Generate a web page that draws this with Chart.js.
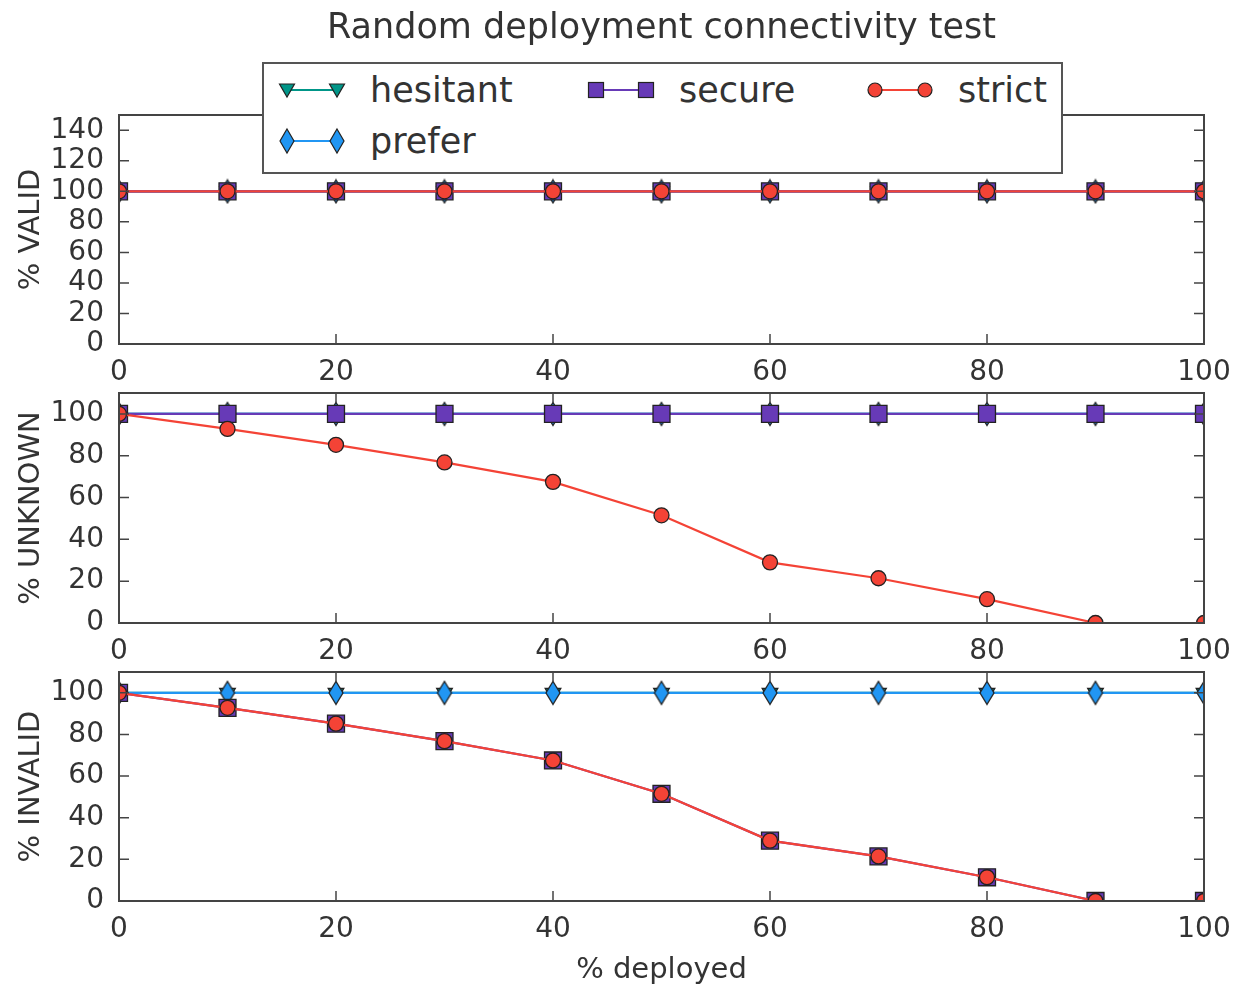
<!DOCTYPE html>
<html>
<head>
<meta charset="utf-8">
<title>Random deployment connectivity test</title>
<script src="https://cdn.jsdelivr.net/npm/chart.js@4.4.1/dist/chart.umd.min.js"></script>
<style>
  body { margin: 0; background: #fff; }
  #wrap { position: relative; width: 1236px; height: 986px; font-family: "DejaVu Sans", sans-serif; color: #333; }
  #wrap canvas { position: absolute; left: 0; }
  #legend { position: absolute; left: 262px; top: 62px; width: 797px; height: 108px; border: 2px solid #555; background: #fff; z-index: 2; }
  .item { position: absolute; height: 40px; display: flex; align-items: center; font-size: 35px; }
  .item svg { margin-right: 23px; }
</style>
</head>
<body>
<div id="wrap">
  <canvas id="c1" width="1236" height="383" style="top:0px"></canvas>
  <canvas id="c2" width="1236" height="299" style="top:363px"></canvas>
  <canvas id="c3" width="1236" height="344" style="top:642px"></canvas>
  <div id="legend"></div>
</div>
<script>
// x values (% deployed)
const deployed = [0, 10, 20, 30, 40, 50, 60, 70, 80, 90, 100];
const xTicks = [0, 20, 40, 60, 80, 100];
const yTicksValid = [0, 20, 40, 60, 80, 100, 120, 140];
const yTicksPct = [0, 20, 40, 60, 80, 100];
const seriesNames = ['hesitant', 'prefer', 'secure', 'strict'];

// % VALID
const validHesitant = [100, 100, 100, 100, 100, 100, 100, 100, 100, 100, 100];
const validPrefer   = [100, 100, 100, 100, 100, 100, 100, 100, 100, 100, 100];
const validSecure   = [100, 100, 100, 100, 100, 100, 100, 100, 100, 100, 100];
const validStrict   = [100, 100, 100, 100, 100, 100, 100, 100, 100, 100, 100];

// % UNKNOWN
const unknownHesitant = [100, 100, 100, 100, 100, 100, 100, 100, 100, 100, 100];
const unknownPrefer   = [100, 100, 100, 100, 100, 100, 100, 100, 100, 100, 100];
const unknownSecure   = [100, 100, 100, 100, 100, 100, 100, 100, 100, 100, 100];
const unknownStrict   = [100, 92.8, 85.2, 76.8, 67.5, 51.5, 29, 21.4, 11.4, 0, 0];

// % INVALID
const invalidHesitant = [100, 100, 100, 100, 100, 100, 100, 100, 100, 100, 100];
const invalidPrefer   = [100, 100, 100, 100, 100, 100, 100, 100, 100, 100, 100];
const invalidSecure   = [100, 92.8, 85.2, 76.8, 67.5, 51.5, 29, 21.4, 11.4, 0, 0];
const invalidStrict   = [100, 92.8, 85.2, 76.8, 67.5, 51.5, 29, 21.4, 11.4, 0, 0];

const colors = { hesitant: '#009688', prefer: '#2196F3', secure: '#673AB7', strict: '#F44336' };
const edge = '#222';

Chart.defaults.font.family = '"DejaVu Sans", sans-serif';
Chart.defaults.color = '#333';

// thin diamond marker, chart.js has none built in
function thinDiamond(fill) {
  const c = document.createElement('canvas');
  c.width = 18; c.height = 26;
  const g = c.getContext('2d');
  g.beginPath();
  g.moveTo(9, 1.5); g.lineTo(16, 13); g.lineTo(9, 24.5); g.lineTo(2, 13);
  g.closePath();
  g.fillStyle = fill; g.fill();
  g.lineWidth = 1.3; g.strokeStyle = edge; g.stroke();
  return c;
}

const markers = {
  hesitant: { pointStyle: 'triangle', pointRadius: 9, pointRotation: 180 },
  prefer:   { pointStyle: thinDiamond(colors.prefer), pointRadius: 9 },
  secure:   { pointStyle: 'rect', pointRadius: 12 },
  strict:   { pointStyle: 'circle', pointRadius: 7.5 }
};
const drawOrder = { hesitant: 3, prefer: 2, secure: 1, strict: 0 };

function makeDataset(name, values) {
  return Object.assign({
    label: name,
    data: deployed.map((x, i) => ({ x: x, y: values[i] })),
    borderColor: colors[name],
    backgroundColor: colors[name],
    pointBorderColor: edge,
    pointBorderWidth: 1.3,
    borderWidth: 2.2,
    tension: 0,
    clip: 0,
    order: drawOrder[name]
  }, markers[name]);
}

// matplotlib-like frame with inward ticks on all four sides
const framePlugin = {
  id: 'frame',
  afterDatasetsDraw(chart) {
    const { ctx, chartArea: a, scales: { x, y } } = chart;
    ctx.save();
    ctx.strokeStyle = '#444';
    ctx.lineWidth = 1.5;
    ctx.beginPath();
    x.ticks.forEach(t => {
      const px = x.getPixelForValue(t.value);
      ctx.moveTo(px, a.bottom); ctx.lineTo(px, a.bottom - 10);
      ctx.moveTo(px, a.top); ctx.lineTo(px, a.top + 10);
    });
    y.ticks.forEach(t => {
      const py = y.getPixelForValue(t.value);
      ctx.moveTo(a.left, py); ctx.lineTo(a.left + 10, py);
      ctx.moveTo(a.right, py); ctx.lineTo(a.right - 10, py);
    });
    ctx.stroke();
    ctx.lineWidth = 2;
    ctx.strokeRect(a.left, a.top, a.right - a.left, a.bottom - a.top);
    ctx.restore();
  }
};

// canvases 2 and 3 start 30px above their plot frame (transparent overlap)
const panels = [
  { id: 'c1', label: '% VALID', yMax: 150, yTicks: yTicksValid, xHeight: 39, padTop: 0, title: true,
    series: { hesitant: validHesitant, prefer: validPrefer, secure: validSecure, strict: validStrict } },
  { id: 'c2', label: '% UNKNOWN', yMax: 110, yTicks: yTicksPct, xHeight: 39, padTop: 30,
    series: { hesitant: unknownHesitant, prefer: unknownPrefer, secure: unknownSecure, strict: unknownStrict } },
  { id: 'c3', label: '% INVALID', yMax: 110, yTicks: yTicksPct, xHeight: 85, padTop: 30, xTitle: '% deployed',
    series: { hesitant: invalidHesitant, prefer: invalidPrefer, secure: invalidSecure, strict: invalidStrict } }
];

panels.forEach(p => {
  new Chart(document.getElementById(p.id), {
    type: 'line',
    data: { datasets: seriesNames.map(n => makeDataset(n, p.series[n])) },
    options: {
      responsive: false,
      animation: false,
      layout: { padding: { top: p.padTop, right: 32, bottom: 0, left: 0 } },
      plugins: {
        legend: { display: false },
        tooltip: { enabled: false },
        title: {
          display: !!p.title,
          fullSize: false,
          text: 'Random deployment connectivity test',
          font: { size: 35, weight: 'normal' },
          color: '#333',
          padding: { top: 8, bottom: 115 - 8 - 35 * 1.2 }
        }
      },
      scales: {
        x: {
          type: 'linear', min: 0, max: 100,
          grid: { display: false },
          border: { display: false },
          ticks: { padding: 4, autoSkip: false, maxRotation: 0, font: { size: 28 }, color: '#333' },
          afterBuildTicks: s => { s.ticks = xTicks.map(v => ({ value: v })); },
          title: { display: !!p.xTitle, text: p.xTitle || '', font: { size: 29 }, color: '#333', padding: { top: 0, bottom: -2 } },
          afterFit: s => { s.height = p.xHeight; s.paddingLeft = 0; s.paddingRight = 0; }
        },
        y: {
          min: 0, max: p.yMax,
          grid: { display: false },
          border: { display: false },
          ticks: { padding: 7, autoSkip: false, font: { size: 28 }, color: '#333' },
          afterBuildTicks: s => { s.ticks = p.yTicks.map(v => ({ value: v })); },
          title: { display: true, text: p.label, font: { size: 29 }, color: '#333', padding: { top: 14, bottom: 0 } },
          afterFit: s => { s.width = 119; s.paddingTop = 0; s.paddingBottom = 0; }
        }
      }
    },
    plugins: [framePlugin]
  });
});

// legend, matplotlib ncol=3 layout
function legendIcon(name) {
  const c = colors[name];
  const m = (cx) => {
    if (name === 'hesitant') return `<polygon points="${cx - 7.5},9 ${cx + 7.5},9 ${cx},22" fill="${c}" stroke="${edge}" stroke-width="1.2"/>`;
    if (name === 'prefer') return `<polygon points="${cx},3 ${cx + 7},15 ${cx},27 ${cx - 7},15" fill="${c}" stroke="${edge}" stroke-width="1.2"/>`;
    if (name === 'secure') return `<rect x="${cx - 7.5}" y="7.5" width="15" height="15" fill="${c}" stroke="${edge}" stroke-width="1.2"/>`;
    return `<circle cx="${cx}" cy="15" r="7" fill="${c}" stroke="${edge}" stroke-width="1.2"/>`;
  };
  return `<svg width="70" height="30"><line x1="10" y1="15" x2="60" y2="15" stroke="${c}" stroke-width="2.2"/>${m(10)}${m(60)}</svg>`;
}
const legendPos = {
  hesitant: [275 - 262, 6],
  prefer:   [275 - 262, 57],
  secure:   [584 - 262, 6],
  strict:   [863 - 262, 6]
};
const legend = document.getElementById('legend');
seriesNames.forEach(n => {
  const d = document.createElement('div');
  d.className = 'item';
  d.style.left = legendPos[n][0] + 'px';
  d.style.top = legendPos[n][1] + 'px';
  d.innerHTML = legendIcon(n) + '<span>' + n + '</span>';
  legend.appendChild(d);
});
</script>
</body>
</html>
